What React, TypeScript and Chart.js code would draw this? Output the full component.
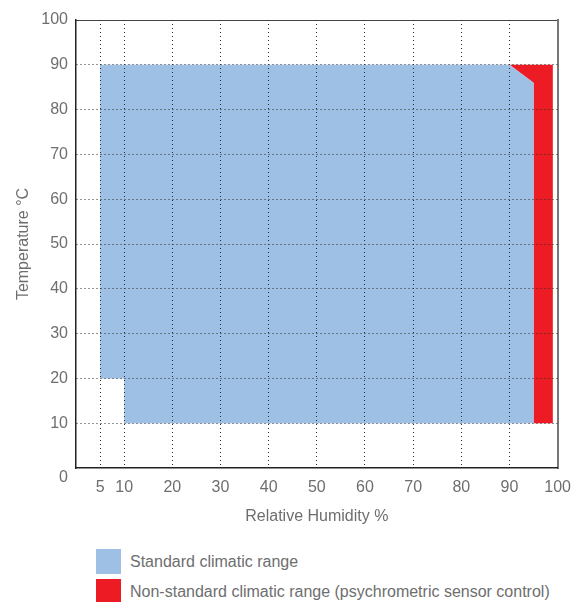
import React, { useEffect, useRef } from 'react';
import { Chart, registerables } from 'chart.js';

Chart.register(...registerables);

// Tick values
const X_TICKS = [5, 10, 20, 30, 40, 50, 60, 70, 80, 90, 100];
const Y_TICKS = [0, 10, 20, 30, 40, 50, 60, 70, 80, 90, 100];

// Standard climatic range polygon (RH %, Temperature °C)
const STANDARD_RH = [5, 90, 95, 95, 10, 10, 5, 5];
const STANDARD_T = [90, 90, 86, 10, 10, 20, 20, 90];

// Non-standard climatic range polygon (psychrometric sensor control)
const NONSTD_RH = [90, 99, 99, 95, 95, 90];
const NONSTD_T = [90, 90, 10, 10, 86, 90];

const LEGEND_LABELS = ['Standard climatic range', 'Non-standard climatic range (psychrometric sensor control)'];
const BLUE = '#9dc0e4';
const RED = '#ed1c24';
const TEXT = '#6e6e6e';
const FONT = "'Liberation Sans', Arial, sans-serif";

export default function App() {
  const ref = useRef<HTMLCanvasElement>(null);

  useEffect(() => {
    if (!ref.current) return;
    const toPts = (xs: number[], ys: number[]) => xs.map((x, i) => ({ x, y: ys[i] }));
    const gridColor = (c: any) =>
      c.tick && (c.tick.value === 100 || c.tick.value === 0) ? 'rgba(0,0,0,0)' : '#2a2a2a';
    const chart = new Chart(ref.current, {
      type: 'scatter',
      data: {
        datasets: [
          {
            label: LEGEND_LABELS[0],
            data: toPts(STANDARD_RH, STANDARD_T),
            showLine: true,
            fill: 'shape',
            backgroundColor: BLUE,
            borderColor: BLUE,
            borderWidth: 0,
            pointRadius: 0,
            tension: 0,
          },
          {
            label: LEGEND_LABELS[1],
            data: toPts(NONSTD_RH, NONSTD_T),
            showLine: true,
            fill: 'shape',
            backgroundColor: RED,
            borderColor: RED,
            borderWidth: 0,
            pointRadius: 0,
            tension: 0,
          },
        ],
      },
      options: {
        animation: false,
        responsive: false,
        devicePixelRatio: 1,
        layout: { padding: { top: 20, right: 21, left: 0, bottom: 0 } },
        plugins: { legend: { display: false }, tooltip: { enabled: false } },
        scales: {
          x: {
            type: 'linear',
            min: 0,
            max: 100,
            afterBuildTicks: (s: any) => {
              s.ticks = X_TICKS.map((v) => ({ value: v }));
            },
            afterFit: (s: any) => {
              s.height = 62;
            },
            ticks: {
              autoSkip: false,
              maxRotation: 0,
              padding: 10,
              color: TEXT,
              font: { family: FONT, size: 16 },
            },
            grid: {
              z: 1,
              drawTicks: false,
              lineWidth: 1,
              color: gridColor,
            },
            border: { display: true, z: 2, color: '#222', width: 1.5, dash: [1, 3] },
            title: {
              display: true,
              text: 'Relative Humidity %',
              color: TEXT,
              font: { family: FONT, size: 16 },
              padding: { top: 0, bottom: 4 },
            },
          },
          y: {
            type: 'linear',
            min: 0,
            max: 100,
            afterBuildTicks: (s: any) => {
              s.ticks = Y_TICKS.map((v) => ({ value: v }));
            },
            afterFit: (s: any) => {
              s.width = 76;
            },
            ticks: {
              padding: 8,
              color: TEXT,
              font: { family: FONT, size: 16 },
              callback: (v: any) => (v === 0 ? ['', '0'] : String(v)),
            },
            grid: {
              z: 1,
              drawTicks: false,
              lineWidth: 1,
              color: gridColor,
            },
            border: { display: true, z: 2, color: '#222', width: 1.5, dash: [1, 3] },
            title: {
              display: true,
              text: 'Temperature °C',
              color: TEXT,
              font: { family: FONT, size: 16 },
              padding: { top: 14, bottom: 0 },
            },
          },
          x2: {
            type: 'linear',
            position: 'top',
            min: 0,
            max: 100,
            afterFit: (s: any) => {
              s.height = 0;
            },
            ticks: { display: false },
            grid: { display: false, drawTicks: false },
            border: { display: true, color: '#444', width: 1 },
          },
          y2: {
            type: 'linear',
            position: 'right',
            min: 0,
            max: 100,
            afterFit: (s: any) => {
              s.width = 0;
            },
            ticks: { display: false },
            grid: { display: false, drawTicks: false },
            border: { display: true, color: '#777', width: 2 },
          },
        },
      },
    } as any);
    return () => chart.destroy();
  }, []);

  const legendColors = [BLUE, RED];
  const legendTops = [549, 579];

  return (
    <div style={{ position: 'absolute', left: 0, top: 0, width: 581, height: 602, background: '#fff', overflow: 'hidden' }}>
      <canvas ref={ref} width={581} height={530} style={{ position: 'absolute', left: 0, top: 0, width: 581, height: 530 }} />
      {LEGEND_LABELS.map((label, i) => (
        <div
          key={label}
          style={{
            position: 'absolute',
            left: 96,
            top: legendTops[i],
            height: 25,
            display: 'flex',
            alignItems: 'center',
            whiteSpace: 'nowrap',
            fontFamily: FONT,
            fontSize: 16,
            color: TEXT,
          }}
        >
          <span style={{ display: 'inline-block', width: 25, height: 25, background: legendColors[i], marginRight: 9 }} />
          <span>{label}</span>
        </div>
      ))}
    </div>
  );
}
